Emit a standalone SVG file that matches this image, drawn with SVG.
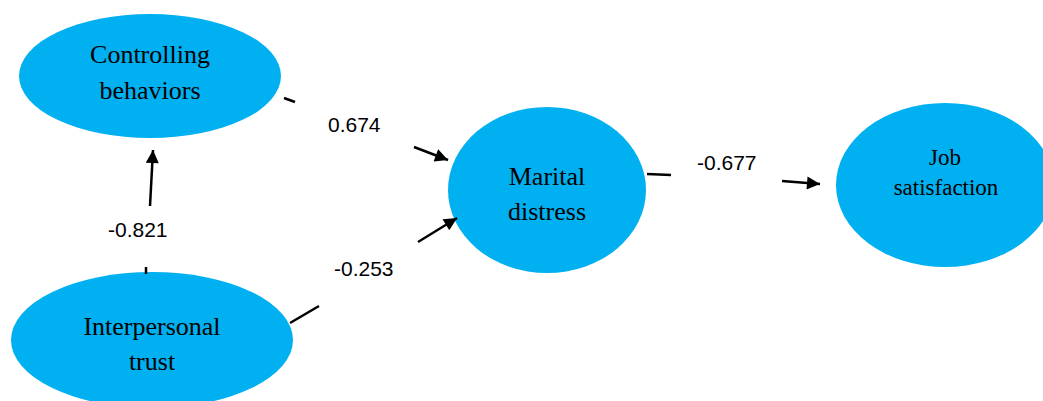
<svg xmlns="http://www.w3.org/2000/svg" width="1043" height="401" viewBox="0 0 1043 401">
<style>
.node{fill:#00B0F0;stroke:none}
.lbl{font-family:"Liberation Serif","Times New Roman",serif;font-size:26px;fill:#000;text-anchor:middle}
.sm{font-size:23px}
.num{font-family:"Liberation Sans",Arial,sans-serif;font-size:21px;fill:#000}
.edge{stroke:#000;stroke-width:2.5;fill:none}
</style>
<defs>
<marker id="arr" viewBox="0 0 10 10" refX="10" refY="5" markerWidth="6" markerHeight="5.2" markerUnits="strokeWidth" orient="auto">
<path d="M0,0 L10,5 L0,10 Z" fill="#000"/>
</marker>
</defs>
<rect width="1043" height="401" fill="#fff"/>
<g id="controlling-behaviors">
<ellipse class="node" cx="150" cy="76" rx="131" ry="62"/>
<text class="lbl" x="150" y="63">Controlling</text>
<text class="lbl" x="150" y="99">behaviors</text>
</g>
<g id="interpersonal-trust">
<ellipse class="node" cx="152" cy="340" rx="141" ry="68"/>
<text class="lbl" x="152" y="335">Interpersonal</text>
<text class="lbl" x="152" y="370">trust</text>
</g>
<g id="marital-distress">
<ellipse class="node" cx="547" cy="190" rx="99" ry="83"/>
<text class="lbl" x="547" y="185">Marital</text>
<text class="lbl" x="547" y="220">distress</text>
</g>
<g id="job-satisfaction">
<ellipse class="node" cx="945" cy="185" rx="109" ry="82"/>
<text class="lbl sm" x="945" y="165">Job</text>
<text class="lbl sm" x="946" y="195">satisfaction</text>
</g>
<g id="connectors">
<line class="edge" x1="284" y1="98" x2="295" y2="102"/>
<line class="edge" x1="414" y1="147" x2="448" y2="160" marker-end="url(#arr)"/>
<line class="edge" x1="146" y1="267" x2="146" y2="274"/>
<line class="edge" x1="150" y1="206" x2="153" y2="150" marker-end="url(#arr)"/>
<line class="edge" x1="290" y1="323" x2="319" y2="306"/>
<line class="edge" x1="418" y1="242" x2="457" y2="218" marker-end="url(#arr)"/>
<line class="edge" x1="647" y1="174" x2="671" y2="175"/>
<line class="edge" x1="782" y1="181" x2="820" y2="184" marker-end="url(#arr)"/>
<text class="num" x="328" y="132">0.674</text>
<text class="num" x="108" y="237">-0.821</text>
<text class="num" x="334" y="276">-0.253</text>
<text class="num" x="697" y="170">-0.677</text>
</g>
</svg>
